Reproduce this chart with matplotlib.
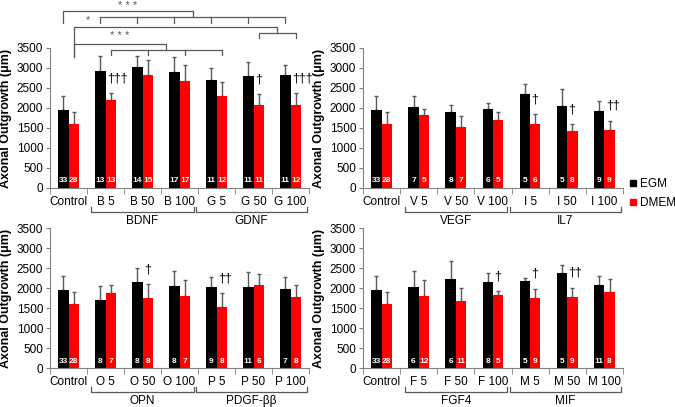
import matplotlib
matplotlib.use('Agg')
import matplotlib.pyplot as plt
import numpy as np

plt.rcParams['font.family'] = ['Liberation Sans', 'DejaVu Sans']

# ---- data (mean, upper error, n) ----
control_egm, control_egm_err, control_egm_n = 1950, 340, 33
control_dmem, control_dmem_err, control_dmem_n = 1600, 290, 28

# top left: BDNF / GDNF
tl_labels = ['Control', 'B 5', 'B 50', 'B 100', 'G 5', 'G 50', 'G 100']
tl_groups = ['BDNF', 'GDNF']
tl_egm = [control_egm, 2930, 3030, 2910, 2700, 2790, 2835]
tl_egm_err = [control_egm_err, 360, 260, 365, 290, 350, 240]
tl_dmem = [control_dmem, 2200, 2830, 2680, 2310, 2075, 2085]
tl_dmem_err = [control_dmem_err, 175, 360, 395, 350, 275, 290]
tl_egm_n = [33, 13, 14, 17, 11, 11, 11]
tl_dmem_n = [28, 13, 15, 17, 12, 11, 12]
tl_dag = ['', '†††', '', '', '', '†', '†††']

# top right: VEGF / IL7
tr_labels = ['Control', 'V 5', 'V 50', 'V 100', 'I 5', 'I 50', 'I 100']
tr_groups = ['VEGF', 'IL7']
tr_egm = [control_egm, 2015, 1905, 1975, 2340, 2050, 1930]
tr_egm_err = [control_egm_err, 290, 160, 150, 260, 430, 235]
tr_dmem = [control_dmem, 1830, 1515, 1705, 1600, 1420, 1450]
tr_dmem_err = [control_dmem_err, 145, 290, 195, 250, 180, 235]
tr_egm_n = [33, 7, 8, 6, 5, 5, 9]
tr_dmem_n = [28, 5, 7, 5, 6, 8, 9]
tr_dag = ['', '', '', '', '†', '†', '††']

# bottom left: OPN / PDGF-bb
bl_labels = ['Control', 'O 5', 'O 50', 'O 100', 'P 5', 'P 50', 'P 100']
bl_groups = ['OPN', 'PDGF-ββ']
bl_egm = [control_egm, 1700, 2150, 2050, 2035, 2025, 1975]
bl_egm_err = [control_egm_err, 340, 350, 365, 250, 385, 310]
bl_dmem = [control_dmem, 1875, 1750, 1810, 1535, 2075, 1775]
bl_dmem_err = [control_dmem_err, 190, 350, 390, 340, 265, 300]
bl_egm_n = [33, 8, 8, 8, 9, 11, 7]
bl_dmem_n = [28, 7, 8, 7, 8, 6, 8]
bl_dag = ['', '', '†', '', '††', '', '']

# bottom right: FGF4 / MIF
br_labels = ['Control', 'F 5', 'F 50', 'F 100', 'M 5', 'M 50', 'M 100']
br_groups = ['FGF4', 'MIF']
br_egm = [control_egm, 2035, 2215, 2160, 2175, 2375, 2075]
br_egm_err = [control_egm_err, 400, 450, 210, 75, 200, 235]
br_dmem = [control_dmem, 1810, 1685, 1835, 1750, 1785, 1900]
br_dmem_err = [control_dmem_err, 380, 315, 85, 235, 225, 335]
br_egm_n = [33, 6, 6, 8, 5, 5, 11]
br_dmem_n = [28, 12, 11, 5, 9, 9, 8]
br_dag = ['', '', '', '†', '†', '††', '']

EGM_C = 'black'
DMEM_C = '#ff0000'
LINE_C = '#595959'
W = 0.28

fig = plt.figure(figsize=(6.75, 4.07), dpi=100)


def panel(rect, labels, groups, egm, egm_err, dmem, dmem_err, egm_n, dmem_n, dag):
    ax = fig.add_axes(rect)
    x = np.arange(len(labels))
    ax.bar(x - W / 2, egm, W, color=EGM_C, zorder=2)
    ax.bar(x + W / 2, dmem, W, color=DMEM_C, zorder=2)
    ax.errorbar(x - W / 2, egm, yerr=[np.zeros(len(x)), egm_err], fmt='none',
                ecolor=LINE_C, elinewidth=1, capsize=1.5, zorder=1)
    ax.errorbar(x + W / 2, dmem, yerr=[np.zeros(len(x)), dmem_err], fmt='none',
                ecolor=LINE_C, elinewidth=1, capsize=1.5, zorder=1)
    for i in range(len(x)):
        ax.text(x[i] - W / 2, 175, str(egm_n[i]), color='white', fontsize=6,
                fontweight='bold', ha='center', va='center', zorder=3)
        ax.text(x[i] + W / 2, 175, str(dmem_n[i]), color='white', fontsize=6,
                fontweight='bold', ha='center', va='center', zorder=3)
        if dag[i]:
            ax.text(x[i] + 0.04, dmem[i] + dmem_err[i] + 370, dag[i], fontsize=9,
                    ha='left', va='center')
    ax.set_xlim(-0.5, len(x) - 0.5)
    ax.set_ylim(0, 3500)
    ax.set_yticks(np.arange(0, 3501, 500))
    ax.set_xticks(x)
    ax.set_xticklabels(labels, fontsize=8.5)
    ax.set_xticks(np.arange(-0.5, len(x), 1), minor=True)
    ax.tick_params(axis='x', which='major', length=0, pad=6)
    ax.tick_params(axis='x', which='minor', length=4, direction='out', color='#808080')
    ax.tick_params(axis='y', length=3, direction='out', color='#808080', labelsize=8.5, pad=2)
    for s in ['top', 'right']:
        ax.spines[s].set_visible(False)
    for s in ['left', 'bottom']:
        ax.spines[s].set_color('#808080')
    ax.set_ylabel('Axonal Outgrowth (μm)', fontsize=9, fontweight='bold', labelpad=3)
    # group brackets under the axis
    for (a, b), g in zip([(0.62, 3.38), (3.45, 6.45)], groups):
        ax.plot([a, a, b, b], [-475, -600, -600, -475], color=LINE_C, lw=0.9, clip_on=False)
        ax.text((a + b) / 2, -830, g, fontsize=8.5, ha='center', va='center')
    return ax


tl = panel([0.0741, 0.5381, 0.3837, 0.344], tl_labels, tl_groups, tl_egm, tl_egm_err,
           tl_dmem, tl_dmem_err, tl_egm_n, tl_dmem_n, tl_dag)
tr = panel([0.5378, 0.5381, 0.385, 0.344], tr_labels, tr_groups, tr_egm, tr_egm_err,
           tr_dmem, tr_dmem_err, tr_egm_n, tr_dmem_n, tr_dag)
bl = panel([0.0741, 0.0958, 0.3837, 0.344], bl_labels, bl_groups, bl_egm, bl_egm_err,
           bl_dmem, bl_dmem_err, bl_egm_n, bl_dmem_n, bl_dag)
br = panel([0.5378, 0.0958, 0.385, 0.344], br_labels, br_groups, br_egm, br_egm_err,
           br_dmem, br_dmem_err, br_egm_n, br_dmem_n, br_dag)


# significance brackets above top-left panel
def line(ax, xs, ys):
    ax.plot(xs, ys, color=LINE_C, lw=0.9, clip_on=False)


e = lambda i: i - W / 2   # EGM bar centre
d = lambda i: i + W / 2   # DMEM bar centre

# Control EGM vs all BDNF/GDNF EGM
m1 = (e(1) + e(6)) / 2
line(tl, [e(0), e(0), m1, m1], [4125, 4425, 4425, 4275])
line(tl, [e(1), e(6)], [4275, 4275])
for i in range(1, 7):
    line(tl, [e(i), e(i)], [4275, 4125])
tl.text((e(0) + m1) / 2, 4560, '* * *', fontsize=8, color=LINE_C, ha='center', va='center')

# Control DMEM vs G 50 / G 100 DMEM
m2 = (d(5) + d(6)) / 2
line(tl, [d(0), d(0), m2, m2], [3275, 4025, 4025, 3875])
line(tl, [d(5), d(5), d(6), d(6)], [3750, 3875, 3875, 3750])
tl.text(0.53, 4190, '*', fontsize=8, color=LINE_C, ha='center', va='center')

# Control DMEM vs B 5 .. G 5 DMEM
m3 = (d(1) + d(4)) / 2
line(tl, [d(0), d(0), m3, m3], [3275, 3600, 3600, 3450])
line(tl, [d(1), d(4)], [3450, 3450])
for i in range(1, 5):
    line(tl, [d(i), d(i)], [3450, 3325])
tl.text((d(0) + m3) / 2, 3790, '* * *', fontsize=8, color=LINE_C, ha='center', va='center')

# legend
handles = [plt.Line2D([], [], marker='s', ls='none', color=c, markersize=5)
           for c in [EGM_C, DMEM_C]]
fig.legend(handles, ['EGM', 'DMEM'], loc='center left', bbox_to_anchor=(0.925, 0.524),
           frameon=False, fontsize=8.5, handlelength=0.6, handletextpad=0.3,
           labelspacing=0.6, borderaxespad=0)

fig.savefig('out.png', dpi=100)
